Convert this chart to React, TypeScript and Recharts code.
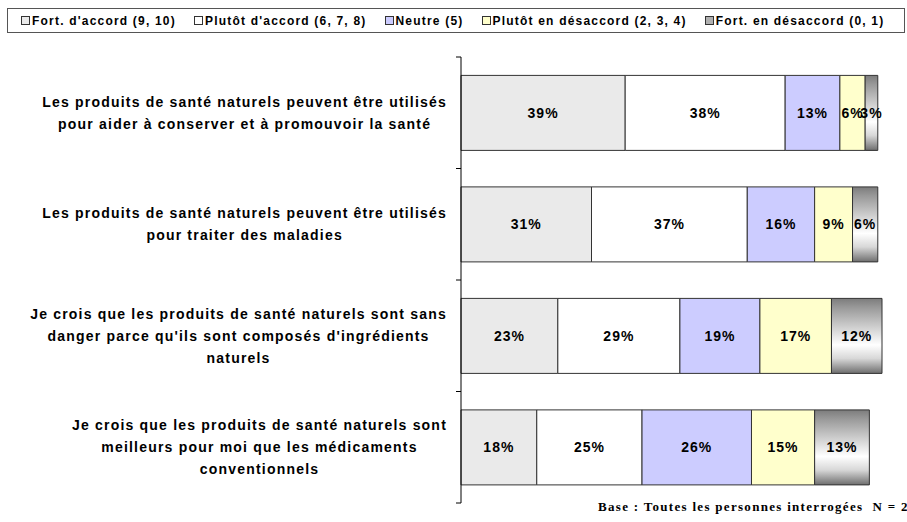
import { BarChart, Bar, XAxis, YAxis, LabelList } from "recharts";

const CATEGORY_LINES: string[][] = [
  [
    "Les produits de santé naturels peuvent être utilisés",
    "pour aider à conserver et à promouvoir la santé",
  ],
  ["Les produits de santé naturels peuvent être utilisés", "pour traiter des maladies"],
  [
    "Je crois que les produits de santé naturels sont sans",
    "danger parce qu'ils sont composés d'ingrédients",
    "naturels",
  ],
  [
    "Je crois que les produits de santé naturels sont",
    "meilleurs pour moi que les médicaments",
    "conventionnels",
  ],
];
const CATEGORIES = CATEGORY_LINES.map((l) => l.join(" "));

const FORT_ACCORD = [39, 31, 23, 18];
const PLUTOT_ACCORD = [38, 37, 29, 25];
const NEUTRE = [13, 16, 19, 26];
const PLUTOT_DESACCORD = [6, 9, 17, 15];
const FORT_DESACCORD = [3, 6, 12, 13];

const SERIES = [
  { key: "fortAccord", name: "Fort. d'accord (9, 10)", values: FORT_ACCORD, fill: "#eaeaea" },
  { key: "plutotAccord", name: "Plutôt d'accord (6, 7, 8)", values: PLUTOT_ACCORD, fill: "#ffffff" },
  { key: "neutre", name: "Neutre (5)", values: NEUTRE, fill: "#ccccff" },
  { key: "plutotDesaccord", name: "Plutôt en désaccord (2, 3, 4)", values: PLUTOT_DESACCORD, fill: "#ffffcc" },
  { key: "fortDesaccord", name: "Fort. en désaccord (0, 1)", values: FORT_DESACCORD, fill: "url(#grayFade)" },
];

const data = CATEGORIES.map((name, i) => {
  const row: Record<string, any> = { name };
  SERIES.forEach((s) => (row[s.key] = s.values[i]));
  return row;
});

const ARIAL = "Arial, 'Liberation Sans', sans-serif";
const LABEL_SIZE = 14;
const LABEL_SPACING = 1.2;
const TICK_MARGIN = 14;

let ctx: CanvasRenderingContext2D | null = null;
const measure = (s: string) => {
  if (!ctx) ctx = document.createElement("canvas").getContext("2d");
  if (!ctx) return s.length * 8;
  ctx.font = `bold ${LABEL_SIZE}px 'Liberation Sans', Arial`;
  return ctx.measureText(s).width + LABEL_SPACING * s.length;
};

// category label, centred block ending left of the axis, plus the boundary tick marks
const CategoryTick = (props: any) => {
  const { x, y, payload, height, visibleTicksCount, index } = props;
  const idx = CATEGORIES.indexOf(payload.value);
  const lines = idx >= 0 ? CATEGORY_LINES[idx] : [String(payload.value)];
  const maxW = Math.max(...lines.map(measure));
  const cx = x - maxW / 2;
  const lh = 22;
  const y0 = y - ((lines.length - 1) * lh) / 2;
  const band = height / (visibleTicksCount || CATEGORIES.length);
  const axisX = x + TICK_MARGIN;
  const isLast = index === (visibleTicksCount || CATEGORIES.length) - 1;
  return (
    <g>
      <line x1={axisX - 5} x2={axisX} y1={y - band / 2} y2={y - band / 2} stroke="#000" />
      {isLast && (
        <line x1={axisX - 5} x2={axisX} y1={y + band / 2} y2={y + band / 2} stroke="#000" />
      )}
      {lines.map((l, i) => (
        <text
          key={i}
          x={cx}
          y={y0 + i * lh}
          textAnchor="middle"
          dominantBaseline="central"
          fontFamily={ARIAL}
          fontWeight="bold"
          fontSize={LABEL_SIZE}
          letterSpacing={LABEL_SPACING}
          fill="#000"
        >
          {l}
        </text>
      ))}
    </g>
  );
};

export default function App() {
  return (
    <div
      style={{
        position: "absolute",
        left: 0,
        top: 0,
        width: 907,
        height: 522,
        overflow: "hidden",
        background: "#fff",
      }}
    >
      <div
        style={{
          position: "absolute",
          left: 7,
          top: 8,
          width: 898,
          height: 25,
          boxSizing: "border-box",
          border: "1px solid #555",
          display: "flex",
          alignItems: "center",
          paddingLeft: 13,
          gap: 18,
          fontFamily: ARIAL,
          fontWeight: "bold",
          fontSize: 12,
          letterSpacing: 1.2,
          whiteSpace: "nowrap",
        }}
      >
        {SERIES.map((s) => (
          <div key={s.key} style={{ display: "flex", alignItems: "center" }}>
            <span
              style={{
                display: "inline-block",
                width: 7,
                height: 7,
                border: "1px solid #333",
                background: s.key === "fortDesaccord" ? "#b0b0b0" : s.fill,
                marginRight: 2,
              }}
            />
            <span>{s.name}</span>
          </div>
        ))}
      </div>

      <BarChart
        width={907}
        height={522}
        data={data}
        layout="vertical"
        margin={{ top: 57, right: 25, bottom: 19, left: 0 }}
        barCategoryGap="16.5%"
      >
        <defs>
          <linearGradient id="grayFade" x1="0" y1="0" x2="0" y2="1">
            <stop offset="0" stopColor="#7c7c7c" />
            <stop offset="0.12" stopColor="#999999" />
            <stop offset="0.62" stopColor="#ffffff" />
            <stop offset="0.8" stopColor="#d8d8d8" />
            <stop offset="1" stopColor="#6e6e6e" />
          </linearGradient>
        </defs>
        <XAxis type="number" domain={[0, 100]} hide />
        <YAxis
          type="category"
          dataKey="name"
          width={461}
          axisLine={{ stroke: "#000" }}
          tickLine={false}
          tickSize={0}
          tickMargin={TICK_MARGIN}
          tick={<CategoryTick />}
          interval={0}
        />
        {SERIES.map((s) => (
          <Bar
            key={s.key}
            dataKey={s.key}
            name={s.name}
            stackId="a"
            fill={s.fill}
            stroke="#333"
            strokeWidth={1}
            isAnimationActive={false}
          >
            <LabelList
              dataKey={s.key}
              position="center"
              formatter={(v: any) => `${v}%`}
              fill="#000"
              fontFamily={ARIAL}
              fontWeight="bold"
              fontSize={14}
              letterSpacing={1}
            />
          </Bar>
        ))}
      </BarChart>

      <div
        style={{
          position: "absolute",
          left: 598,
          top: 499,
          fontFamily: "'Times New Roman', 'Liberation Serif', serif",
          fontWeight: "bold",
          fontSize: 13,
          letterSpacing: 1.3,
          whiteSpace: "pre",
        }}
      >
        {"Base : Toutes les personnes interrogées  N = 2"}
      </div>
    </div>
  );
}
